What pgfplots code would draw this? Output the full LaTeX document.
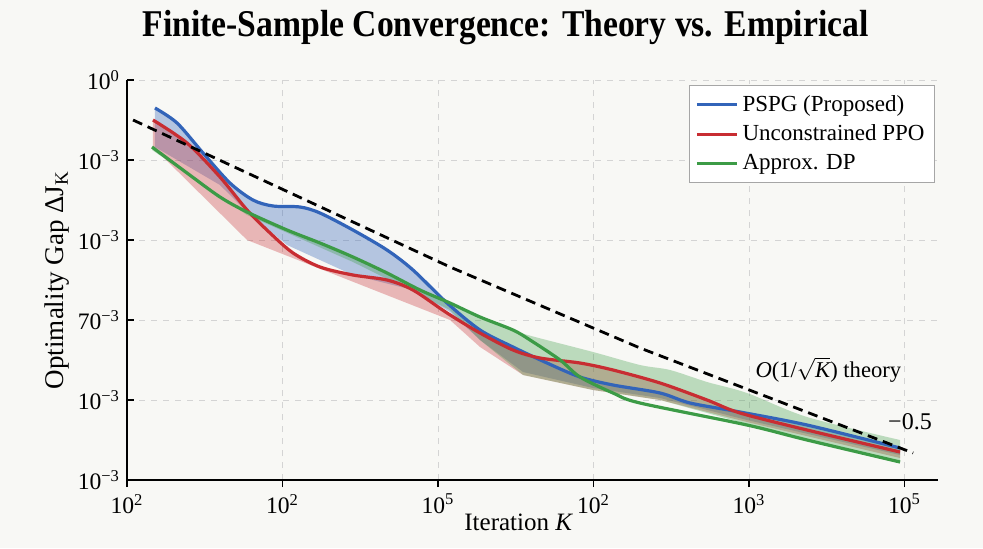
\documentclass[border=0pt]{standalone}
\usepackage{fontspec}
\setmainfont{Liberation Serif}
\usepackage{pgfplots}
\usepackage{pgfplotstable}
\pgfplotsset{compat=1.18}
\usepgfplotslibrary{fillbetween}
\definecolor{cblue}{RGB}{50,100,185}
\definecolor{cred}{RGB}{200,45,50}
\definecolor{cgreen}{RGB}{60,155,70}
\definecolor{bgc}{RGB}{248,248,245}
\definecolor{gridc}{RGB}{212,212,212}
\pagecolor{bgc}

\pgfplotstableread{
x y
0.180 4.65
0.322 4.4625
0.489 4.0875
0.662 3.7125
0.810 3.5
0.939 3.425
1.113 3.4125
1.241 3.3375
1.453 3.125
1.672 2.875
1.839 2.625
2.058 2.2125
2.270 1.875
2.482 1.6625
2.701 1.4625
2.913 1.2875
3.125 1.1875
3.428 1.0875
3.621 0.9625
3.942 0.85
4.373 0.6875
4.971 0.4
}\bluetab

\pgfplotstableread{
x y
0.180 4.1625
0.598 3.6875
0.772 3.35
1.029 2.9375
1.453 2.5625
1.839 2.375
2.077 2.1
2.270 1.75
2.547 1.35
2.997 1.15
3.428 1.025
3.987 0.75
4.971 0.3125
}\bluelow

\pgfplotstableread{
x y
0.167 4.5
0.386 4.2125
0.598 3.7875
0.772 3.375
0.920 3.0875
1.068 2.8375
1.241 2.6625
1.453 2.5625
1.672 2.5
1.839 2.375
2.058 2.0875
2.270 1.8375
2.482 1.625
2.656 1.525
2.913 1.4625
3.125 1.375
3.428 1.2125
3.730 1.0
3.942 0.8375
4.373 0.625
4.971 0.35
}\redtab

\pgfplotstableread{
x y
0.167 4.1625
0.772 3.0
2.077 2.0
2.270 1.6625
2.547 1.3125
2.997 1.125
3.428 1.0
3.987 0.725
4.971 0.275
}\redlow

\pgfplotstableread{
x y
0.161 4.1625
0.386 3.8375
0.598 3.5375
0.772 3.35
1.029 3.125
1.241 2.9625
1.453 2.7875
1.672 2.5875
1.884 2.375
2.077 2.2125
2.270 2.0375
2.482 1.875
2.592 1.75
2.785 1.5
2.913 1.2875
3.125 1.0875
3.299 0.9625
3.987 0.6875
4.373 0.5
4.971 0.225
}\greentab

\pgfplotstableread{
x y
0.161 4.1625
0.386 3.8375
0.598 3.5375
0.772 3.35
1.029 3.125
1.241 2.9625
1.453 2.7875
1.672 2.5875
1.884 2.375
2.077 2.2125
2.270 2.0375
2.482 1.875
2.600 1.80
2.997 1.6
3.299 1.4375
3.492 1.375
3.730 1.225
3.987 1.0875
4.373 0.7875
4.971 0.5
}\greenup

\pgfplotstableread{
x y
0.161 4.125
0.772 3.3125
1.453 2.725
2.077 2.125
2.270 1.75
2.547 1.3125
2.997 1.125
3.428 1.0
3.987 0.7
4.971 0.225
}\greenlow

\pgfplotstableread{
x y
0.039 4.5
2.077 2.663
3.299 1.65
5.055 0.338
}\theorytab

\begin{document}
\begin{tikzpicture}
\begin{axis}[
  at={(0pt,0pt)}, anchor=south west,
  scale only axis, width=405.5pt, height=200pt,
  xmin=0, xmax=5.215, ymin=0, ymax=5,
  axis x line*=bottom, axis y line*=left,
  axis line style={-, black, line width=0.9pt},
  xtick={0,1,2,3,4,5}, ytick={0,1,2,3,4,5},
  xticklabels={10\textsuperscript{2},10\textsuperscript{2},10\textsuperscript{5},10\textsuperscript{2},10\textsuperscript{3},10\textsuperscript{5}},
  yticklabels={10\textsuperscript{−3},10\textsuperscript{−3},70\textsuperscript{−3},10\textsuperscript{−3},10\textsuperscript{−3},10\textsuperscript{0}},
  ticklabel style={font=\fontsize{11.8}{14}\selectfont},
  tick style={black, line width=0.8pt},
  major tick length=3.5pt, xtick align=outside, ytick align=inside,
  grid=major, grid style={gridc, dashed, line width=0.4pt},
  xlabel={Iteration \textit{K}},
  xlabel style={at={(axis description cs:0.483,0)}, anchor=center, yshift=-21pt, font=\fontsize{12.5}{15}\selectfont},
  ylabel={Optimality Gap ΔJ\textsubscript{K}},
  ylabel style={at={(axis description cs:-0.0863,0.5)}, anchor=center, font=\fontsize{13.5}{16}\selectfont},
  title={\scalebox{0.89}[1]{Finite-Sample Convergence: Theory vs. Empirical}},
  title style={at={(axis description cs:0.4667,1)}, anchor=base, yshift=16pt, font=\bfseries\fontsize{18.9}{22}\selectfont},
  legend style={at={(axis description cs:1,1)}, anchor=north east, xshift=-1.5pt, yshift=-2.5pt,
    draw=gray!70, fill=white, font=\fontsize{11.5}{14}\selectfont,
    inner xsep=3pt, inner ysep=3pt, row sep=1.3pt, cells={anchor=west}},
  legend image code/.code={\draw[#1, line width=1.6pt] (0pt,0pt) -- (20pt,0pt);},
]
% bands
\addplot[draw=none, forget plot, name path=bu, smooth] table {\bluetab};
\addplot[draw=none, forget plot, name path=bl] table {\bluelow};
\addplot[fill=cblue, fill opacity=0.34, forget plot] fill between[of=bu and bl];
\addplot[draw=none, forget plot, name path=ru, smooth] table {\redtab};
\addplot[draw=none, forget plot, name path=rl] table {\redlow};
\addplot[fill=cred, fill opacity=0.32, forget plot] fill between[of=ru and rl];
\addplot[draw=none, forget plot, name path=gu, smooth] table {\greenup};
\addplot[draw=none, forget plot, name path=gl] table {\greenlow};
\addplot[fill=cgreen, fill opacity=0.32, forget plot] fill between[of=gu and gl];
% lines
\addplot[cblue, line width=1.6pt, smooth] table {\bluetab};
\addlegendentry{PSPG (Proposed)}
\addplot[cred, line width=1.6pt, smooth] table {\redtab};
\addlegendentry{Unconstrained PPO}
\addplot[cgreen, line width=1.6pt, smooth] table {\greentab};
\addlegendentry{Approx. DP}
\addplot[black, line width=1.4pt, dash pattern=on 5pt off 3pt, forget plot] table {\theorytab};
\node[font=\fontsize{11.3}{14}\selectfont] at (axis cs:4.51,1.375) {\textit{O}(1/$\sqrt{\textit{K}}$) theory};
\node[font=\fontsize{12}{14}\selectfont] at (axis cs:5.035,0.725) {−0.5};
\end{axis}
\pgfresetboundingbox
\path[use as bounding box] (-63.5pt,-34pt) rectangle (428pt,240pt);
\end{tikzpicture}
\end{document}
